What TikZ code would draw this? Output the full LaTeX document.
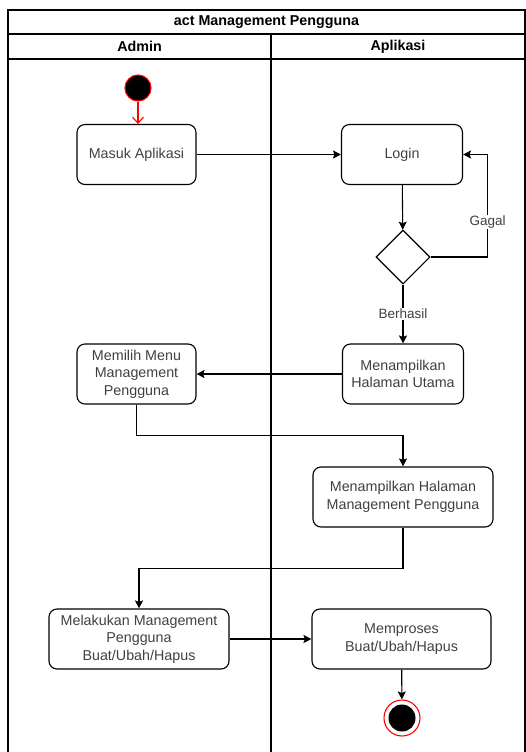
\documentclass[tikz,border=0pt]{standalone}
\usepackage{fontspec}
\setmainfont{Liberation Sans}
\usetikzlibrary{positioning, arrows.meta, shapes.geometric}

\begin{document}
\begin{tikzpicture}[x=1pt,y=-1pt,line width=1.1pt,
    >={Stealth[inset=1.5pt,length=8pt,width=8pt]},
    act/.style={draw,rounded corners=8pt,align=center,minimum height=60pt,
      text=black!75,font=\fontsize{14.3}{17.5}\selectfont},
    lbl/.style={fill=white,inner sep=1pt,text=black!75,font=\fontsize{13.5}{15}\selectfont},
    head/.style={font=\bfseries\fontsize{14.3}{16}\selectfont}]
  \useasboundingbox (0,0) rectangle (526,752);

  % swimlanes
  \draw (8,760) -- (8,10) -- (525,10) -- (525,760);
  \draw (8,34) -- (525,34) (8,59) -- (525,59) (271,34) -- (271,760);
  \node[head] (judul) at (266.5,22) {act Management Pengguna};
  \node[head] (admin) at (139.5,46.5) {Admin};
  \node[head] (apl) at (398,46.5) {Aplikasi};

  % nodes
  \node[circle,fill=black,draw=red,minimum size=26pt,inner sep=0] (awal) at (138,88) {};
  \node[act,minimum width=119pt] (masuk) at (136.5,154.5) {Masuk Aplikasi};
  \node[act,minimum width=121pt] (login) at (402,154.5) {Login};
  \node[diamond,draw,minimum width=54pt,minimum height=54pt,inner sep=0] (cek) at (403,257) {};
  \node[act,minimum width=121pt] (utama) at (403,374) {Menampilkan\\Halaman Utama};
  \node[act,minimum width=119pt] (menu) at (136.5,374) {Memilih Menu\\Management\\Pengguna};
  \node[act,minimum width=180pt] (halaman) at (403,497) {Menampilkan Halaman\\Management Pengguna};
  \node[act,minimum width=180pt] (kelola) at (139,639) {Melakukan Management\\Pengguna\\Buat/Ubah/Hapus};
  \node[act,minimum width=179pt] (proses) at (401.5,639) {Memproses\\Buat/Ubah/Hapus};
  \node[circle,draw=red,fill=white,minimum size=36pt,inner sep=0] (akhir) at (402,718) {};
  \node[circle,fill=black,minimum size=27pt,inner sep=0] (akhirdot) at (akhir) {};

  % flows
  \draw[red,-{Straight Barb[length=6pt,width=11pt]}] (awal) -- (awal |- masuk.north);
  \path[->]
    (masuk) edge (login)
    (login) edge (cek)
    (cek) edge node[lbl] {Berhasil} (utama)
    (utama) edge (menu)
    (kelola) edge (proses)
    (proses) edge (akhir);
  \draw[->] (cek.east) -- ++(57,0) |- node[lbl,pos=0.17] {Gagal} (login.east);
  \draw[->] (menu.south) -- ++(0,31) -| (halaman.north);
  \draw[->] (halaman.south) -- ++(0,41) -| (kelola.north);
\end{tikzpicture}
\end{document}
